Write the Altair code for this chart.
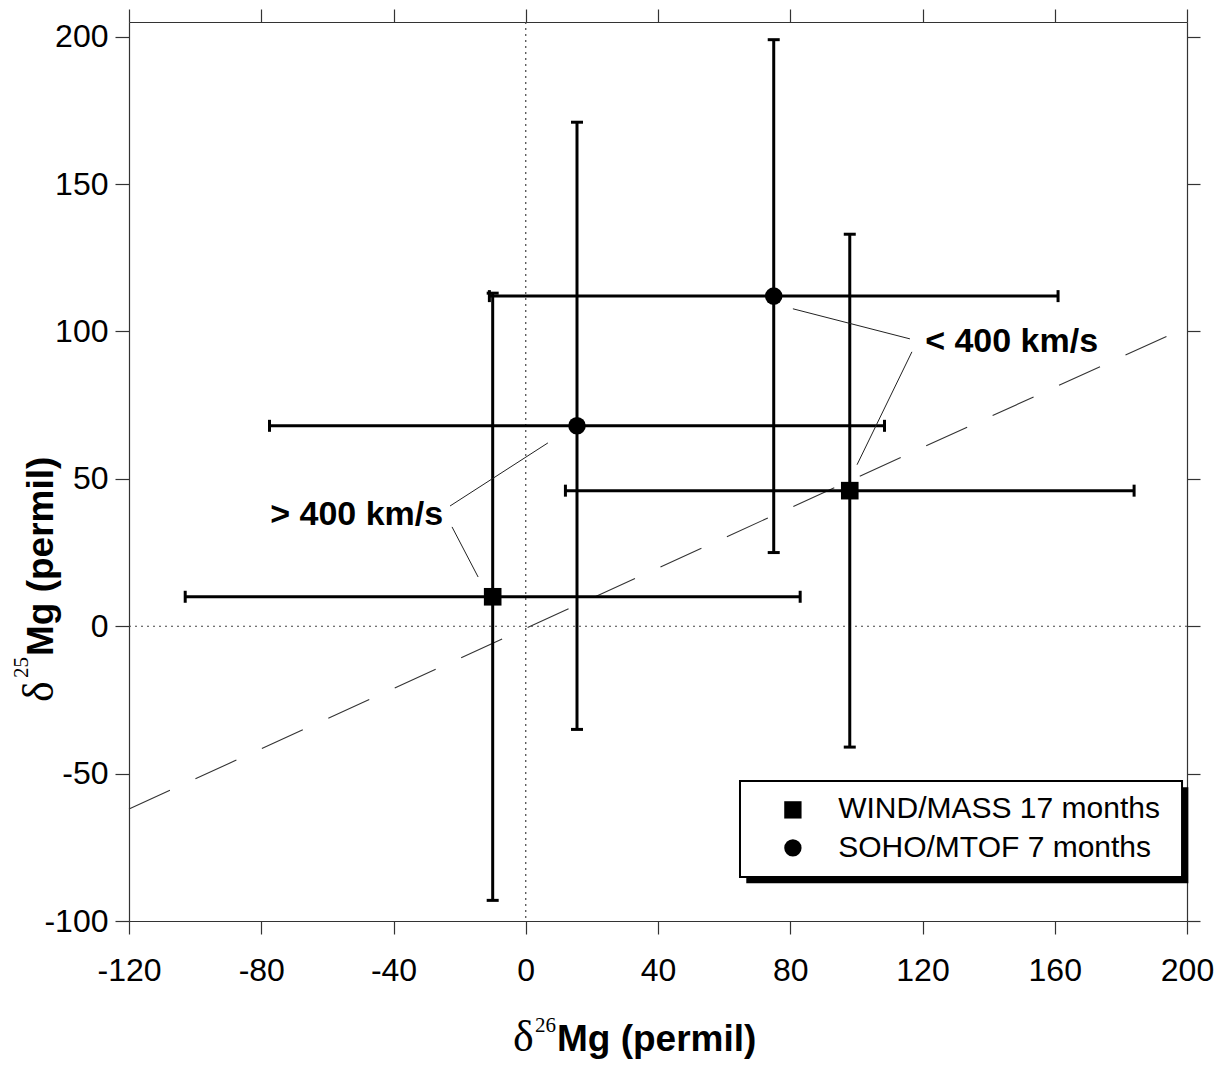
import altair as alt
import pandas as pd

# ---------------- data ----------------
instrument = ["WIND/MASS 17 months", "WIND/MASS 17 months",
              "SOHO/MTOF 7 months", "SOHO/MTOF 7 months"]
d26 = [-10.0, 98.0, 15.5, 75.0]        # delta 26Mg (permil)
d25 = [10.0, 46.0, 68.0, 112.0]        # delta 25Mg (permil)
d26_err = [93.0, 86.0, 93.0, 86.0]
d25_err = [103.0, 87.0, 103.0, 87.0]

# mass-dependent fractionation reference line (end points)
ref_d26 = [-120.0, 200.0]
ref_d25 = [-62.0, 101.5]

x_ticks = [-120, -80, -40, 0, 40, 80, 120, 160, 200]
y_ticks = [-100, -50, 0, 50, 100, 150, 200]

legend_labels = ["WIND/MASS 17 months", "SOHO/MTOF 7 months"]
legend_shapes = ["square", "circle"]

annotation_texts = ["< 400 km/s", "> 400 km/s"]

# ---------------- layout (data units / pixels) ----------------
ann_x = [120.8, -77.3]
ann_y = [93.1, 34.4]
leader_x1 = [116.2, 116.8, -22.9, -22.3]
leader_y1 = [97.5, 93.1, 40.8, 33.7]
leader_x2 = [80.8, 100.2, 6.7, -14.4]
leader_y2 = [107.7, 54.8, 62.2, 16.7]

leg_box = dict(x=64.8, x2=198.5, y=-52.5, y2=-85.1)
leg_shadow = dict(dx=1.9, dy=-2.1)
leg_sym_x = 80.8
leg_row_y = [-62.3, -75.2]
leg_txt_x = 94.5
leg_txt_y = [-65.0, -78.3]

FONT = "Liberation Sans"
SERIF = "Liberation Serif"
AX = "#333333"

xs = alt.Scale(domain=[-120, 200], nice=False, zero=False)
ys = alt.Scale(domain=[-100, 205], nice=False, zero=False)

common_axis = dict(title=None, grid=False, tickSize=13, tickColor=AX, tickWidth=1.2,
                   domainColor=AX, domainWidth=1.2)
bottom_axis = alt.Axis(orient="bottom", values=x_ticks, labelFontSize=32, labelFont=FONT,
                       labelColor="black", labelPadding=21, labelFlush=False,
                       labelOverlap=False, labelExpr="'' + datum.value", **common_axis)
top_axis = alt.Axis(orient="top", values=x_ticks, labels=False, **common_axis)
left_axis = alt.Axis(orient="left", values=y_ticks, labelFontSize=32, labelFont=FONT,
                     labelColor="black", labelPadding=7, labelFlush=False,
                     labelOverlap=False, labelExpr="'' + datum.value",
                     **{**common_axis, "tickSize": 14})
right_axis = alt.Axis(orient="right", values=y_ticks, labels=False, **common_axis)

df = pd.DataFrame({"inst": instrument, "x": d26, "y": d25, "xe": d26_err, "ye": d25_err})
df["xlo"] = df["x"] - df["xe"]
df["xhi"] = df["x"] + df["xe"]
df["ylo"] = df["y"] - df["ye"]
df["yhi"] = df["y"] + df["ye"]

base = alt.Chart(df)

# zero lines (carry top / right axes)
zero_v = alt.Chart(pd.DataFrame({"v": [0]})).mark_rule(
    color="#444", strokeWidth=1.2, strokeDash=[2, 4]
).encode(x=alt.X("v:Q", scale=xs, axis=top_axis))
zero_h = alt.Chart(pd.DataFrame({"v": [0]})).mark_rule(
    color="#444", strokeWidth=1.2, strokeDash=[2, 4]
).encode(y=alt.Y("v:Q", scale=ys, axis=right_axis))

ref = alt.Chart(pd.DataFrame({"x": ref_d26, "y": ref_d25})).mark_line(
    color="#333", strokeWidth=1.1, strokeDash=[45, 28]
).encode(x=alt.X("x:Q", scale=xs, axis=None), y=alt.Y("y:Q", scale=ys, axis=None))

hbar = base.mark_rule(color="black", strokeWidth=3).encode(
    x=alt.X("xlo:Q", scale=xs, axis=None), x2="xhi:Q", y=alt.Y("y:Q", scale=ys, axis=None))
vbar = base.mark_rule(color="black", strokeWidth=3).encode(
    x=alt.X("x:Q", scale=xs, axis=None), y=alt.Y("ylo:Q", scale=ys, axis=None), y2="yhi:Q")
cap_l = base.mark_tick(color="black", orient="vertical", size=12, thickness=3, opacity=1).encode(
    x=alt.X("xlo:Q", scale=xs, axis=None), y=alt.Y("y:Q", scale=ys, axis=None))
cap_r = base.mark_tick(color="black", orient="vertical", size=12, thickness=3, opacity=1).encode(
    x=alt.X("xhi:Q", scale=xs, axis=None), y=alt.Y("y:Q", scale=ys, axis=None))
cap_b = base.mark_tick(color="black", orient="horizontal", size=12, thickness=3, opacity=1).encode(
    x=alt.X("x:Q", scale=xs, axis=None), y=alt.Y("ylo:Q", scale=ys, axis=None))
cap_t = base.mark_tick(color="black", orient="horizontal", size=12, thickness=3, opacity=1).encode(
    x=alt.X("x:Q", scale=xs, axis=None), y=alt.Y("yhi:Q", scale=ys, axis=None))

shape_scale = alt.Scale(domain=legend_labels, range=legend_shapes)
pts = base.mark_point(filled=True, opacity=1, color="black", size=310).encode(
    x=alt.X("x:Q", scale=xs, axis=bottom_axis),
    y=alt.Y("y:Q", scale=ys, axis=left_axis),
    shape=alt.Shape("inst:N", scale=shape_scale, legend=None),
)

# annotations
ann = alt.Chart(pd.DataFrame({"t": annotation_texts, "x": ann_x, "y": ann_y})).mark_text(
    font=FONT, fontSize=34, fontWeight="bold", align="left", baseline="alphabetic", color="black"
).encode(x=alt.X("x:Q", scale=xs, axis=None), y=alt.Y("y:Q", scale=ys, axis=None), text="t:N")
leaders = alt.Chart(pd.DataFrame({"x": leader_x1, "y": leader_y1, "x2": leader_x2, "y2": leader_y2})).mark_rule(
    color="#222", strokeWidth=1
).encode(x=alt.X("x:Q", scale=xs, axis=None), y=alt.Y("y:Q", scale=ys, axis=None), x2="x2:Q", y2="y2:Q")

# legend box with drop shadow
shadow = alt.Chart(pd.DataFrame({
    "x": [leg_box["x"] + leg_shadow["dx"]], "x2": [leg_box["x2"] + leg_shadow["dx"]],
    "y": [leg_box["y"] + leg_shadow["dy"]], "y2": [leg_box["y2"] + leg_shadow["dy"]]})
).mark_rect(color="black").encode(
    x=alt.X("x:Q", scale=xs, axis=None), x2="x2:Q", y=alt.Y("y:Q", scale=ys, axis=None), y2="y2:Q")
box = alt.Chart(pd.DataFrame({k: [v] for k, v in leg_box.items()})).mark_rect(
    fill="white", stroke="black", strokeWidth=2
).encode(x=alt.X("x:Q", scale=xs, axis=None), x2="x2:Q", y=alt.Y("y:Q", scale=ys, axis=None), y2="y2:Q")
leg_df = pd.DataFrame({"inst": legend_labels, "sx": [leg_sym_x] * 2, "sy": leg_row_y,
                       "tx": [leg_txt_x] * 2, "ty": leg_txt_y})
leg_sym = alt.Chart(leg_df).mark_point(filled=True, opacity=1, color="black", size=300).encode(
    x=alt.X("sx:Q", scale=xs, axis=None), y=alt.Y("sy:Q", scale=ys, axis=None),
    shape=alt.Shape("inst:N", scale=shape_scale, legend=None))
leg_txt = alt.Chart(leg_df).mark_text(
    font=FONT, fontSize=30, align="left", baseline="alphabetic", color="black"
).encode(x=alt.X("tx:Q", scale=xs, axis=None), y=alt.Y("ty:Q", scale=ys, axis=None), text="inst:N")

# axis titles (pixel positions relative to the plot origin)
def txt(s, x, y, font, size, weight="normal", angle=0):
    return alt.Chart(pd.DataFrame({"t": [s]})).mark_text(
        font=font, fontSize=size, fontWeight=weight, align="left", baseline="alphabetic",
        color="black", angle=angle
    ).encode(text="t:N", x=alt.value(x), y=alt.value(y))

titles = [
    txt("δ", 384, 1029, SERIF, 44),
    txt("26", 406, 1010, SERIF, 21),
    txt("Mg (permil)", 428, 1029, FONT, 37, "bold"),
    txt("δ", -76, 680, SERIF, 44, angle=270),
    txt("25", -101, 656, SERIF, 21, angle=270),
    txt("Mg (permil)", -76, 634, FONT, 37, "bold", angle=270),
]

chart = alt.layer(
    zero_v, zero_h, ref, hbar, vbar, cap_l, cap_r, cap_b, cap_t, pts,
    leaders, ann, shadow, box, leg_sym, leg_txt, *titles
).resolve_axis(x="independent", y="independent").properties(
    width=1058, height=899,
    autosize=alt.AutoSizeParams(type="none"),
    padding={"left": 121, "top": 14, "right": 30, "bottom": 139},
).configure_view(stroke=None).configure(background="white")

chart.save("out.html", embed_options={"renderer": "svg", "actions": False})
